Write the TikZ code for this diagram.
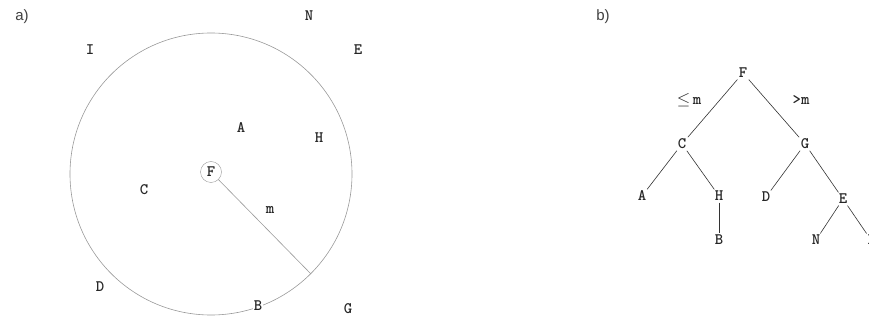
\documentclass[tikz,border=0pt]{standalone}
\usepackage{fontspec}
\begin{document}
\begin{tikzpicture}[x=1pt,y=-1pt,every node/.style={font=\ttfamily\bfseries\fontsize{16}{16}\selectfont,text=black!85,inner sep=1.5pt},
  lbl/.style={font=\fontspec{Liberation Sans}\fontsize{15}{15}\selectfont,text=black!75},
  ring/.style={draw=gray!80,line width=0.6pt},
  edge/.style={draw=black!80,line width=0.6pt}]
\useasboundingbox (0,0) rectangle (869,320);
% a) points and the m-ball round F
\node[lbl] (la) at (22,17) {a)};
\draw[ring] (211,174) circle (141);
\node[draw=gray!80,circle,inner sep=1pt,minimum size=21pt] (pF) at (211,172) {F};
\coordinate (rim) at (311,274);
\draw[ring] (pF) -- (rim);
\node (pm) at (270,210) {m};
\node (pN) at (309,16) {N};
\node (pI) at (90,50) {I};
\node (pE) at (358,50) {E};
\node (pA) at (241,128) {A};
\node (pH) at (319,138) {H};
\node (pC) at (144,190) {C};
\node (pD) at (100,287) {D};
\node[fill=white,inner sep=1pt] (pB) at (258,306) {B};
\node (pG) at (348,309) {G};
% b) the tree
\node[lbl] (lb) at (603,17) {b)};
\node (tF) at (743,73) {F};
\node (tC) at (682,144) {C};
\node (tG) at (805,144) {G};
\node (tA) at (642,196) {A};
\node (tH) at (719,196) {H};
\node (tD) at (766,197) {D};
\node (tE) at (843,199) {E};
\node (tB) at (719,240) {B};
\node (tN) at (816,240) {N};
\node (tI) at (871,240) {I};
\node (le) at (689,100) {$\leq$\,m};
\node (gt) at (801,100) {>m};
\draw[edge] (tF) -- (tC);
\draw[edge] (tF) -- (tG);
\draw[edge] (tC) -- (tA);
\draw[edge] (tC) -- (tH);
\draw[edge] (tH) -- (tB);
\draw[edge] (tG) -- (tD);
\draw[edge] (tG) -- (tE);
\draw[edge] (tE) -- (tN);
\draw[edge] (tE) -- (tI);
\end{tikzpicture}
\end{document}
